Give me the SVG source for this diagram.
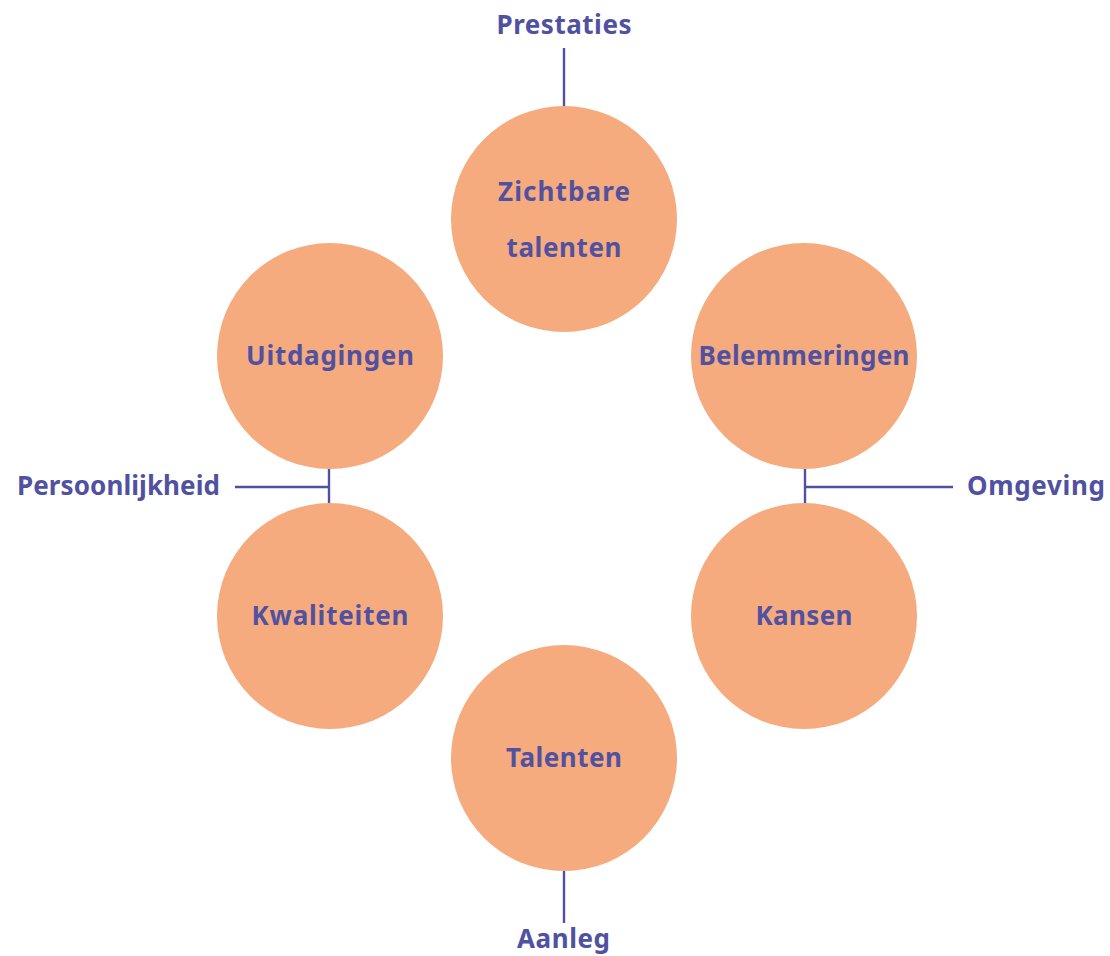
<svg xmlns="http://www.w3.org/2000/svg" width="1110" height="956" viewBox="0 0 1110 956">
<style>
.c{fill:#F5AB7E}
.t{font-family:"Noto Sans","Open Sans","Liberation Sans",sans-serif;font-weight:700;font-size:26px;fill:#5151A1;text-anchor:middle}
.l{stroke:#5151A1;stroke-width:2.4;fill:none}
</style>
<rect width="1110" height="956" fill="#fff"/>
<g id="connectors">
<line class="l" x1="564" y1="48" x2="564" y2="106"/>
<line class="l" x1="564" y1="871" x2="564" y2="923"/>
<line class="l" x1="329" y1="469" x2="329" y2="503"/>
<line class="l" x1="235" y1="487" x2="329" y2="487"/>
<line class="l" x1="805" y1="469" x2="805" y2="503"/>
<line class="l" x1="805" y1="487" x2="953" y2="487"/>
</g>
<g id="zichtbare"><circle class="c" cx="564" cy="219" r="113"/><text class="t" x="564" y="201" textLength="132">Zichtbare</text><text class="t" x="564" y="257" textLength="115">talenten</text></g>
<g id="uitdagingen"><circle class="c" cx="330" cy="356" r="113"/><text class="t" x="330" y="365" textLength="168">Uitdagingen</text></g>
<g id="belemmeringen"><circle class="c" cx="804" cy="356" r="113"/><text class="t" x="804" y="365" textLength="211">Belemmeringen</text></g>
<g id="kwaliteiten"><circle class="c" cx="330" cy="616" r="113"/><text class="t" x="330" y="625" textLength="157">Kwaliteiten</text></g>
<g id="kansen"><circle class="c" cx="804" cy="616" r="113"/><text class="t" x="804" y="625" textLength="97">Kansen</text></g>
<g id="talenten"><circle class="c" cx="564" cy="758" r="113"/><text class="t" x="564" y="767" textLength="116">Talenten</text></g>
<g id="prestaties"><text class="t" x="564" y="34" textLength="135">Prestaties</text></g>
<g id="persoonlijkheid"><text class="t" x="118.5" y="495" textLength="203">Persoonlijkheid</text></g>
<g id="omgeving"><text class="t" x="1036" y="495" textLength="138">Omgeving</text></g>
<g id="aanleg"><text class="t" x="563.5" y="948" textLength="93">Aanleg</text></g>
</svg>
